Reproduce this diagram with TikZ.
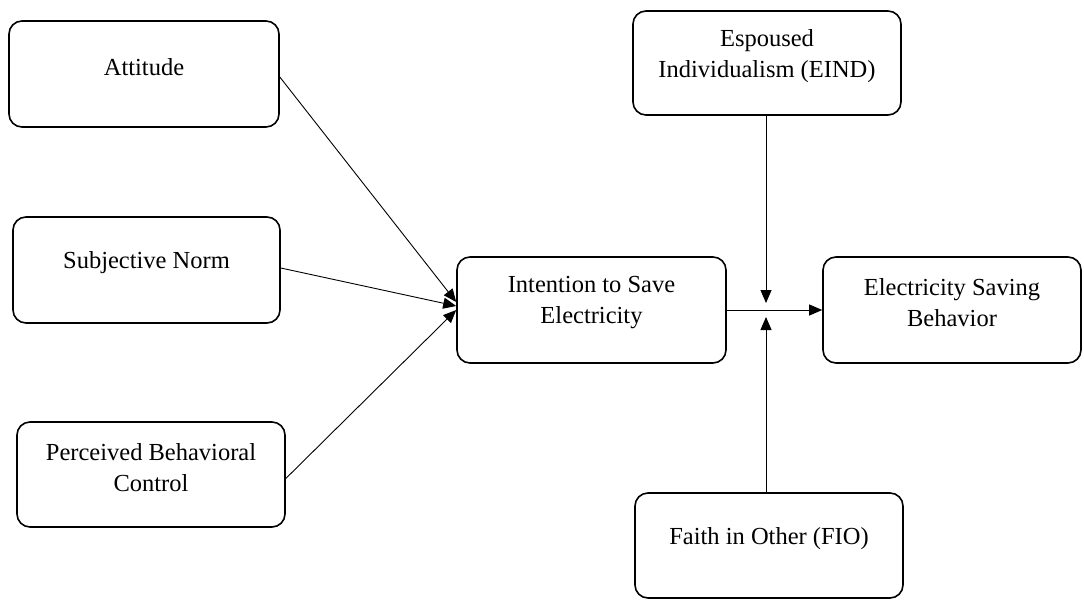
\documentclass[tikz,border=0pt]{standalone}
\usepackage{fontspec}
\setmainfont{Liberation Serif}
\usetikzlibrary{arrows.meta}
\tikzset{
  box/.style={draw, line width=1.6pt, rounded corners=13pt, inner sep=0pt},
  lbl/.style={align=center, font=\fontsize{24.5}{31}\selectfont, yshift=7pt},
  arr/.style={line width=0.9pt, -{Triangle[length=13pt,width=11pt]}},
}
\begin{document}
\begin{tikzpicture}[x=1pt,y=-1pt]
\useasboundingbox (0,0) rectangle (1084,600);
\node[box, minimum width=270pt, minimum height=106pt, label={[lbl]center:Attitude}] (att) at (144,74) {};
\node[box, minimum width=267pt, minimum height=106pt, label={[lbl]center:Subjective Norm}] (sn) at (146.5,270) {};
\node[box, minimum width=268pt, minimum height=105pt, label={[lbl]center:Perceived Behavioral\\Control}] (pbc) at (151,474.5) {};
\node[box, minimum width=269pt, minimum height=106pt, label={[lbl]center:Intention to Save\\Electricity}] (int) at (591.5,310) {};
\node[box, minimum width=258pt, minimum height=106pt, label={[lbl]center:Electricity Saving\\Behavior}] (esb) at (952,310) {};
\node[box, minimum width=268pt, minimum height=104pt, label={[lbl]center:Espoused\\Individualism (EIND)}] (eind) at (767,63) {};
\node[box, minimum width=268pt, minimum height=105pt, label={[lbl]center:Faith in Other (FIO)}] (fio) at (769,545.5) {};
\coordinate (mid) at (766,310);
\coordinate (eindtop) at (766,115);
\coordinate (fiobot) at (766,493);
\draw[arr] ([yshift=-3pt]att.east) -- ([yshift=8pt]int.west);
\draw[arr] ([yshift=2pt]sn.east) -- ([yshift=4pt]int.west);
\draw[arr] ([yshift=-4pt]pbc.east) -- ([yshift=0pt]int.west);
\draw[arr] (int.east) -- (esb.west);
\draw[arr] (eindtop) -- ([yshift=7pt]mid);
\draw[arr] (fiobot) -- ([yshift=-7pt]mid);
\end{tikzpicture}
\end{document}
